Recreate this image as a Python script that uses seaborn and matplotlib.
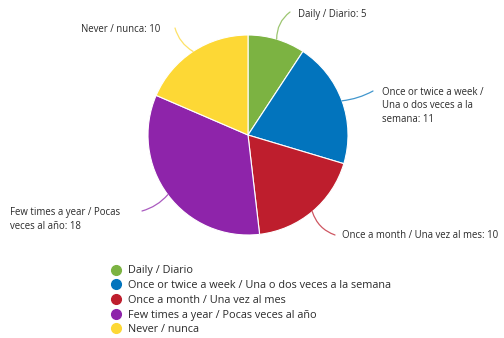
import matplotlib
matplotlib.use("Agg")
import matplotlib.pyplot as plt
from matplotlib.lines import Line2D
import numpy as np
import seaborn as sns

sns.set_style("white")
plt.rcParams["font.family"] = ["Open Sans", "DejaVu Sans"]

categories = [
    "Daily / Diario",
    "Once or twice a week / Una o dos veces a la semana",
    "Once a month / Una vez al mes",
    "Few times a year / Pocas veces al año",
    "Never / nunca",
]
callout_names = [
    "Daily / Diario",
    "Once or twice a week /\nUna o dos veces a la\nsemana",
    "Once a month / Una vez al mes",
    "Few times a year / Pocas\nveces al año",
    "Never / nunca",
]
counts = [5, 11, 10, 18, 10]
colors = sns.color_palette(["#7cb342", "#0274bd", "#be1e2d", "#8e24aa", "#fdd835"])

W, H = 504, 338
fig = plt.figure(figsize=(W / 100, H / 100), dpi=100)
ax = fig.add_axes([0, 0, 1, 1])

cx, cy, r = 248, H - 135, 100
wedges, _ = ax.pie(
    counts, colors=colors, startangle=90, counterclock=False,
    center=(cx, cy), radius=r,
    wedgeprops=dict(edgecolor="white", linewidth=0.8),
)
ax.set_xlim(0, W)
ax.set_ylim(0, H)
ax.set_aspect("auto")
ax.axis("off")

# callout text anchors (pixels from top-left) and alignment
label_pos = [(298, 14), (382, 106), (342, 235), (10, 219.5), (160, 30)]
line_end = [(290, 12), (373, 91), (335, 235), (142, 211), (175, 28)]
label_ha = ["left", "left", "left", "left", "right"]
line_rad = [-0.25, 0.1, 0.25, -0.15, -0.2]

total = sum(counts)
cum = np.cumsum([0] + counts[:-1])
for i, (w, c) in enumerate(zip(wedges, counts)):
    mid = np.deg2rad(90 - (cum[i] + c / 2) / total * 360)
    sx, sy = cx + r * np.cos(mid), cy + r * np.sin(mid)
    ex, ey = line_end[i][0], H - line_end[i][1]
    ax.annotate(
        "", xy=(ex, ey), xytext=(sx, sy),
        arrowprops=dict(arrowstyle="-", color=colors[i], alpha=0.75, lw=0.9,
                        shrinkA=0, shrinkB=0,
                        connectionstyle=f"arc3,rad={line_rad[i]}"),
    )
    tx, ty = label_pos[i][0], H - label_pos[i][1]
    ax.text(tx, ty, f"{callout_names[i]}: {c}", ha=label_ha[i], va="center",
            fontsize=6.95, color="#2b2b2b", linespacing=1.35)

handles = [Line2D([], [], marker="o", linestyle="", markersize=7,
                  markerfacecolor=col, markeredgecolor=col) for col in colors]
leg = fig.legend(handles, categories, loc="upper left",
                 bbox_to_anchor=(110.6 / W, 1 - 265.5 / H),
                 frameon=False, fontsize=7.8, handlelength=1.0,
                 handletextpad=0.61, labelspacing=0.34, borderpad=0,
                 borderaxespad=0)
for t in leg.get_texts():
    t.set_color("#2b2b2b")

fig.savefig("out.png", dpi=100)
